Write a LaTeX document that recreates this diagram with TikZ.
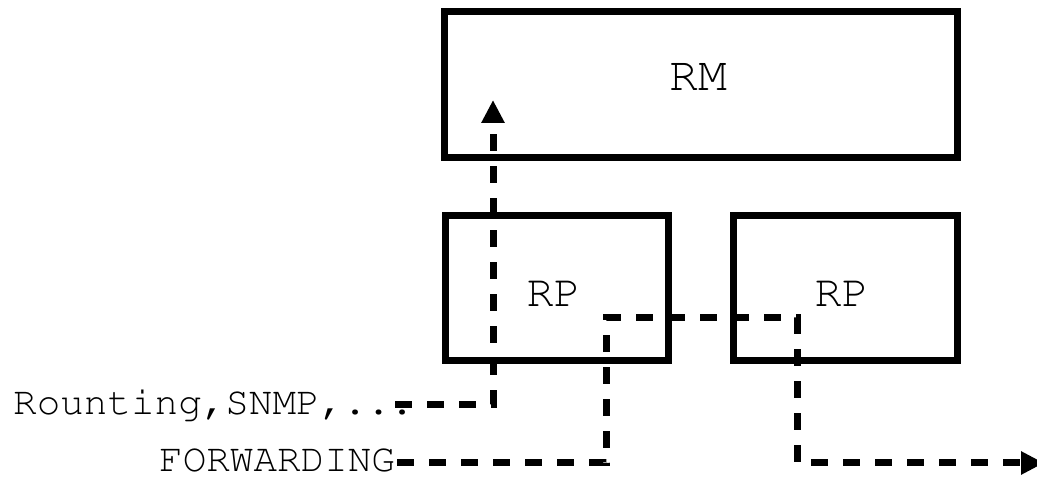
\documentclass[tikz,border=0pt]{standalone}
\usepackage[T1]{fontenc}
\usepackage{courier}
\usetikzlibrary{arrows.meta}
\begin{document}
\begin{tikzpicture}[x=1pt,y=1pt,
  box/.style={draw, line width=7pt, minimum width=#1, minimum height=145pt, inner sep=0pt},
  txt/.style={font=\fontfamily{pcr}\fontsize{#1}{#1}\selectfont, inner sep=0pt},
  conn/.style={line width=7pt, dash pattern=on 17pt off 15pt, line cap=butt},
  tip/.style={-{Triangle[length=23pt,width=22pt]}}]
\useasboundingbox (0,0) rectangle (1037,479);
% boxes
\node[box=513pt, minimum height=146.5pt] (rm) at (701,394.25) {};
\node[box=223.5pt] (rp1) at (556.75,190.5) {};
\node[box=224pt] (rp2) at (845,190.5) {};
\node[txt=48, anchor=base] (rmt) at (698.5,388) {RM};
\node[txt=45, anchor=base] (rp1t) at (553.5,172) {RP};
\node[txt=45, anchor=base] (rp2t) at (841.5,172) {RP};
% labels
\node[txt=39.3, anchor=base west] (rout) at (13,64) {Rounting,SNMP,...};
\node[txt=39.3, anchor=base west] (fwd) at (159,7.5) {FORWARDING};
% connectors
\coordinate (up) at (493,379);
\coordinate (a) at (606,161);
\coordinate (b) at (797,16);
\coordinate (out) at (1044,16);
\draw[conn,tip] ([xshift=-19pt,yshift=10pt]rout.base east) -| (up);
\draw[conn,tip] ([xshift=2pt]fwd.base east |- b) -| (a) -| (b) -- (out);
\end{tikzpicture}
\end{document}
